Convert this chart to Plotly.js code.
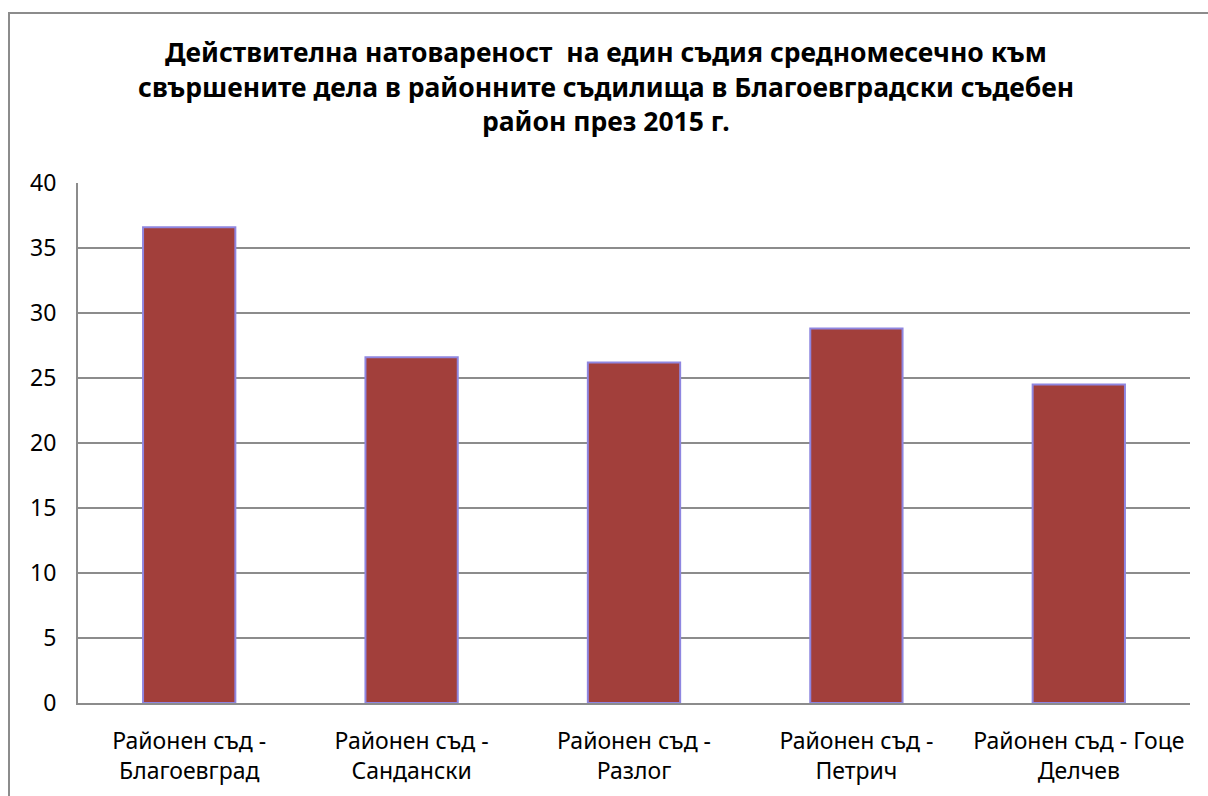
<!DOCTYPE html>
<html>
<head>
<meta charset="utf-8">
<script src="https://cdn.plot.ly/plotly-3.0.1.min.js"></script>
<style>
  html, body { margin: 0; padding: 0; background: #fff; overflow: hidden; }
  #frame {
    position: absolute; left: 8px; top: 12px; width: 1400px; height: 1000px;
    border: 2px solid #8c8c8c; box-sizing: border-box;
  }
  #chart { position: absolute; left: 0; top: 0; width: 1208px; height: 796px; }
</style>
</head>
<body>
<div id="frame"></div>
<div id="chart"></div>
<script>
// заглавие на диаграмата (по редове)
const titleLines = [
    'Действителна натовареност  на един съдия средномесечно към',
    'свършените дела в районните съдилища в Благоевградски съдебен',
    'район през 2015 г.'
];

// районни съдилища
const courts = [
    'Районен съд -<br>Благоевград',
    'Районен съд -<br>Сандански',
    'Районен съд -<br>Разлог',
    'Районен съд -<br>Петрич',
    'Районен съд - Гоце<br>Делчев'
];

// натовареност (дела на съдия месечно)
const workload = [36.6, 26.6, 26.2, 28.8, 24.5];

const yTicks = [0, 5, 10, 15, 20, 25, 30, 35, 40];

const FONT = 'Noto Sans, sans-serif';
const GRID = '#8c8c8c';

const plotTop = 183, plotBottom = 703;
const plotH = plotBottom - plotTop;
const lineY = [52, 87, 121];   // центрове на редовете на заглавието, px

const annotations = titleLines.map((t, i) => ({
    text: '<b>' + t + '</b>',
    xref: 'paper', yref: 'paper',
    x: 0.475, y: (plotBottom - lineY[i]) / plotH,
    xanchor: 'center', yanchor: 'middle',
    showarrow: false,
    font: { family: FONT, size: 26.5, color: '#000' }
}));

Plotly.newPlot('chart', [{
    type: 'bar',
    x: courts,
    y: workload,
    marker: {
        color: '#a23f3b',
        line: { color: '#8f86e0', width: 2 }
    },
    hoverinfo: 'x+y'
}], {
    width: 1208, height: 796,
    paper_bgcolor: 'rgba(0,0,0,0)',
    plot_bgcolor: 'rgba(0,0,0,0)',
    margin: { l: 78, r: 18, t: plotTop, b: 796 - plotBottom, pad: 0 },
    showlegend: false,
    bargap: 0.585,
    annotations: annotations,
    xaxis: {
        type: 'category',
        showgrid: false,
        showline: true, linecolor: GRID, linewidth: 2,
        ticks: '',
        tickfont: { family: FONT, size: 23, color: '#000' },
        ticklabelstandoff: 16,
        fixedrange: true
    },
    yaxis: {
        range: [0, 40],
        tickvals: yTicks,
        showgrid: true, gridcolor: GRID, gridwidth: 1.5,
        zeroline: false,
        showline: true, linecolor: GRID, linewidth: 2,
        ticks: '',
        tickfont: { family: FONT, size: 23, color: '#000' },
        ticklabelstandoff: 15,
        fixedrange: true
    }
}, { displayModeBar: false, staticPlot: true });
</script>
</body>
</html>
